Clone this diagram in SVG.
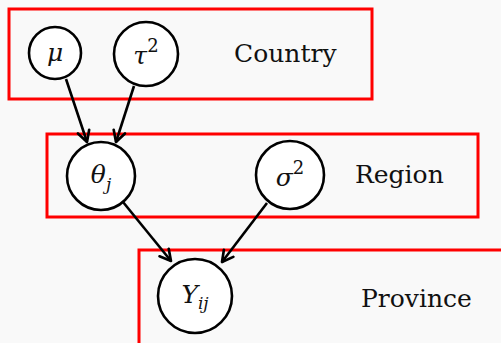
<svg xmlns="http://www.w3.org/2000/svg" width="501" height="343" viewBox="0 0 501 343">
  <style>
    .plate { fill: none; stroke: #ff0000; stroke-width: 3; }
    .node circle { fill: #ffffff; stroke: #000000; stroke-width: 2.6; }
    .math { font-family: "DejaVu Serif", serif; font-style: italic; font-size: 25px; fill: #111; text-anchor: middle; }
    .sup { font-style: normal; font-size: 18px; }
    .sub { font-size: 17px; }
    .label { font-family: "DejaVu Serif", serif; font-size: 25px; fill: #111; }
    .edge { stroke: #000; stroke-width: 2.6; fill: none; marker-end: url(#arrow); }
  </style>
  <defs>
    <marker id="arrow" viewBox="0 0 10 10" refX="8" refY="5" markerWidth="6" markerHeight="6" orient="auto" markerUnits="strokeWidth">
      <path d="M1,1.2 L8,5 L1,8.8" fill="none" stroke="#000" stroke-width="1.7" stroke-linecap="round" stroke-linejoin="round"/>
    </marker>
  </defs>
  <rect width="501" height="343" fill="#f9f9f9"/>

  <!-- plates -->
  <g id="plate-country">
    <rect class="plate" x="9" y="9" width="363" height="90"/>
    <text class="label" x="234" y="62">Country</text>
  </g>
  <g id="plate-region">
    <rect class="plate" x="47" y="134" width="431" height="83"/>
    <text class="label" x="355" y="183">Region</text>
  </g>
  <g id="plate-province">
    <rect class="plate" x="139" y="250" width="380" height="110"/>
    <text class="label" x="361" y="307">Province</text>
  </g>

  <!-- connectors -->
  <g id="edges">
    <path class="edge" d="M66,79 L87,142"/>
    <path class="edge" d="M134,86 L116,142"/>
    <path class="edge" d="M123,202 L171,261"/>
    <path class="edge" d="M267,203 L222,262"/>
  </g>

  <!-- nodes -->
  <g id="node-mu" class="node">
    <circle cx="55" cy="53" r="26"/>
    <text class="math" x="55" y="61">μ</text>
  </g>
  <g id="node-tau2" class="node">
    <circle cx="146" cy="54" r="32"/>
    <text class="math" x="146" y="64">τ<tspan class="sup" dy="-12">2</tspan></text>
  </g>
  <g id="node-theta" class="node">
    <circle cx="101" cy="176" r="34"/>
    <text class="math" x="101" y="183">θ<tspan class="sub" dy="7">j</tspan></text>
  </g>
  <g id="node-sigma2" class="node">
    <circle cx="290" cy="175" r="34"/>
    <text class="math" x="290" y="186">σ<tspan class="sup" dy="-12">2</tspan></text>
  </g>
  <g id="node-y" class="node">
    <circle cx="195" cy="296" r="37"/>
    <text class="math" x="195" y="303">Y<tspan class="sub" dy="6">ij</tspan></text>
  </g>
</svg>
